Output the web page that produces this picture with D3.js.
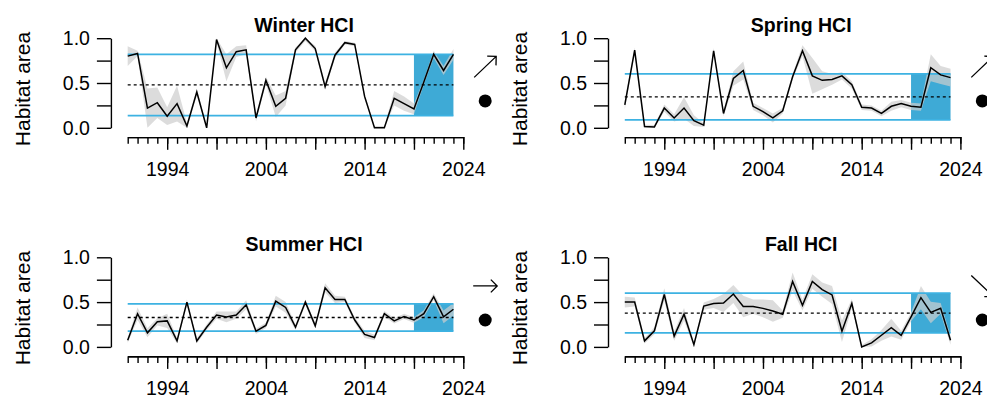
<!DOCTYPE html>
<html>
<head>
<meta charset="utf-8">
<script src="https://cdn.jsdelivr.net/npm/d3@7"></script>
<style>
  html, body { margin: 0; padding: 0; background: #fff; }
  svg { display: block; font-family: "Liberation Sans", Arial, sans-serif; }
</style>
</head>
<body>
<svg id="chart" width="987" height="398"></svg>
<script>
// Seasonal habitat compression index, 1990-2023
const years = [1990,1991,1992,1993,1994,1995,1996,1997,1998,1999,2000,2001,2002,2003,2004,2005,2006,
               2007,2008,2009,2010,2011,2012,2013,2014,2015,2016,2017,2018,2019,2020,2021,2022,2023];

const seasons = ["Winter HCI", "Spring HCI", "Summer HCI", "Fall HCI"];

const winter   = [0.80,0.83,0.22,0.28,0.13,0.27,0.02,0.40,0.00,0.985,0.67,0.85,0.87,0.11,0.53,0.24,0.33,
                  0.87,1.00,0.885,0.46,0.81,0.95,0.93,0.35,0.00,0.00,0.33,0.27,0.21,0.51,0.82,0.64,0.82];
const winterSe = [0.11,0.03,0.22,0.17,0.10,0.20,0.03,0.04,0.02,0.03,0.15,0.06,0.05,0.04,0.04,0.12,0.08,
                  0.03,0.03,0.03,0.04,0.03,0.02,0.02,0.03,0.02,0.02,0.08,0.08,0.06,0.03,0.04,0.05,0.06];

const spring   = [0.255,0.867,0.015,0.01,0.22,0.11,0.22,0.08,0.03,0.86,0.16,0.55,0.64,0.24,0.18,0.11,0.19,
                  0.57,0.86,0.58,0.53,0.54,0.58,0.48,0.23,0.22,0.16,0.24,0.27,0.24,0.23,0.67,0.59,0.56];
const springSe = [0.05,0.03,0.02,0.02,0.04,0.04,0.12,0.06,0.02,0.03,0.03,0.08,0.10,0.04,0.04,0.05,0.03,
                  0.03,0.06,0.20,0.10,0.06,0.04,0.04,0.03,0.03,0.03,0.05,0.04,0.04,0.04,0.15,0.10,0.10];

const summer   = [0.075,0.37,0.157,0.28,0.29,0.067,0.50,0.067,0.22,0.355,0.335,0.355,0.47,0.175,0.24,0.51,0.44,
                  0.22,0.50,0.235,0.66,0.53,0.53,0.30,0.14,0.105,0.37,0.29,0.34,0.30,0.37,0.56,0.335,0.42];
const summerSe = [0.03,0.07,0.05,0.04,0.08,0.03,0.03,0.03,0.03,0.04,0.06,0.04,0.05,0.03,0.03,0.06,0.06,
                  0.03,0.03,0.03,0.05,0.04,0.03,0.03,0.04,0.03,0.03,0.03,0.03,0.03,0.04,0.04,0.07,0.07];

const fall     = [0.50,0.50,0.067,0.18,0.585,0.12,0.365,0.025,0.455,0.485,0.49,0.59,0.45,0.45,0.43,0.40,0.365,
                  0.73,0.465,0.73,0.64,0.58,0.175,0.485,0.00,0.045,0.13,0.215,0.13,0.335,0.55,0.385,0.43,0.075];
const fallSe   = [0.06,0.05,0.03,0.04,0.07,0.05,0.07,0.03,0.04,0.05,0.10,0.10,0.12,0.08,0.10,0.12,0.04,
                  0.10,0.06,0.08,0.08,0.10,0.12,0.05,0.02,0.04,0.06,0.10,0.05,0.05,0.13,0.12,0.06,0.05];

// Long-term mean and standard deviation of each season
const seasonMean = [0.478, 0.345, 0.328, 0.378];
const seasonSd   = [0.342, 0.256, 0.153, 0.222];

// Recent window highlighted on each panel
const recentStart = 2019;
const recentEnd   = 2023;

// Recent trend (up / flat / down) for each season
const trends = ["up", "up", "flat", "down"];

const yTicks = [0, 0.25, 0.5, 0.75, 1];
const yLabelTicks = [0, 0.5, 1];
const xMajorTicks = [1994, 1999, 2004, 2009, 2014, 2019, 2024];
const xLabelTicks = [1994, 2004, 2014, 2024];

const seriesValues = [winter, spring, summer, fall];
const seriesSe = [winterSe, springSe, summerSe, fallSe];

// ---- layout ----
const svg = d3.select("#chart");
const FONT = 19.5;
const BLUE_FILL = "#3eaad6";
const BLUE_LINE = "#3db2e2";

const panelX = [127.7, 624.8, 127.7, 624.8];   // x of 1990
const panelTop = [38.2, 38.2, 257.3, 257.3];    // y of 1.0
const plotW = 335.6;
const plotH = 89.6;

seasons.forEach((title, k) => {
  const x0 = panelX[k], yTop = panelTop[k];
  const x = d3.scaleLinear().domain([1990, 2024]).range([x0, x0 + plotW]);
  const y = d3.scaleLinear().domain([0, 1]).range([yTop + plotH, yTop]);
  const vals = seriesValues[k], se = seriesSe[k];
  const m = seasonMean[k], sd = seasonSd[k];
  const g = svg.append("g");

  // recent-period box between the ±1 SD lines
  g.append("rect")
    .attr("x", x(recentStart)).attr("width", x(recentEnd) - x(recentStart))
    .attr("y", y(m + sd)).attr("height", y(m - sd) - y(m + sd))
    .attr("fill", BLUE_FILL);

  // uncertainty band
  const band = d3.area()
    .x((d, i) => x(years[i]))
    .y0((d, i) => y(Math.max(0, d - se[i])))
    .y1((d, i) => y(Math.min(1, d + se[i])));
  g.append("path").datum(vals).attr("d", band)
    .attr("fill", "#cdcdcd").attr("fill-opacity", 0.7);

  // ±1 SD lines
  [m + sd, m - sd].forEach(v => {
    g.append("line")
      .attr("x1", x(years[0])).attr("x2", x(years[years.length - 1]))
      .attr("y1", y(v)).attr("y2", y(v))
      .attr("stroke", BLUE_LINE).attr("stroke-width", 1.8);
  });

  // long-term mean
  g.append("line")
    .attr("x1", x(years[0])).attr("x2", x(years[years.length - 1]))
    .attr("y1", y(m)).attr("y2", y(m))
    .attr("stroke", "#000").attr("stroke-width", 1.3)
    .attr("stroke-dasharray", "3,3");

  // index series
  const line = d3.line().x((d, i) => x(years[i])).y(d => y(d));
  g.append("path").datum(vals).attr("d", line)
    .attr("fill", "none").attr("stroke", "#000").attr("stroke-width", 1.5)
    .attr("stroke-linejoin", "miter");

  // y axis
  const yAxis = d3.axisLeft(y).tickValues(yTicks).tickSize(14).tickSizeOuter(0).tickPadding(7)
    .tickFormat(v => yLabelTicks.includes(v) ? d3.format(".1f")(v) : "");
  const ya = g.append("g").attr("transform", `translate(${x0 - 16.8},0)`).call(yAxis);

  // x axis: yearly minor ticks, 5-year major ticks
  const xBase = y(0) + 9.3;
  const xMinor = d3.axisBottom(x).tickValues(years.concat([2024])).tickSize(6.7).tickSizeOuter(0).tickFormat("");
  const xMajor = d3.axisBottom(x).tickValues(xMajorTicks).tickSize(12.7).tickSizeOuter(0).tickPadding(12)
    .tickFormat(v => xLabelTicks.includes(v) ? String(v) : "");
  const xa1 = g.append("g").attr("transform", `translate(0,${xBase})`).call(xMinor);
  const xa2 = g.append("g").attr("transform", `translate(0,${xBase})`).call(xMajor);

  [ya, xa1, xa2].forEach(a => {
    a.selectAll("path.domain").attr("stroke", "#000").attr("stroke-width", 1.4);
    a.selectAll(".tick line").attr("stroke", "#000").attr("stroke-width", 1.4);
    a.selectAll("text").attr("font-size", FONT).attr("font-family", "Liberation Sans, Arial, sans-serif")
      .attr("fill", "#000");
  });

  // title
  g.append("text")
    .attr("x", x0 + 176.4).attr("y", yTop - 13)
    .attr("text-anchor", "middle").attr("dominant-baseline", "central")
    .attr("font-size", FONT).attr("font-weight", "bold").text(title);

  // y label
  g.append("text")
    .attr("transform", `translate(${x0 - 105},${y(0.5) + 6}) rotate(-90)`)
    .attr("text-anchor", "middle").attr("dominant-baseline", "central")
    .attr("font-size", 21).text("Habitat area");

  // trend arrow
  const cx = x0 + 357.5, cy = y(0.68);
  const dir = trends[k];
  let tail, tip;
  if (dir === "up")   { tail = [cx - 11, cy + 10.5]; tip = [cx + 11, cy - 10.5]; }
  if (dir === "down") { tail = [cx - 11, cy - 10.5]; tip = [cx + 11, cy + 10.5]; }
  if (dir === "flat") { tail = [cx - 12, cy];        tip = [cx + 12, cy]; }
  const ang = Math.atan2(tip[1] - tail[1], tip[0] - tail[0]);
  const hl = 9;
  const h1 = [tip[0] - hl * Math.cos(ang - Math.PI / 4), tip[1] - hl * Math.sin(ang - Math.PI / 4)];
  const h2 = [tip[0] - hl * Math.cos(ang + Math.PI / 4), tip[1] - hl * Math.sin(ang + Math.PI / 4)];
  g.append("path")
    .attr("d", `M${tail}L${tip}M${h1}L${tip}L${h2}`)
    .attr("fill", "none").attr("stroke", "#000").attr("stroke-width", 1.3);

  // status marker
  g.append("circle").attr("cx", cx).attr("cy", y(0.3)).attr("r", 6.5).attr("fill", "#000");
});
</script>
</body>
</html>
